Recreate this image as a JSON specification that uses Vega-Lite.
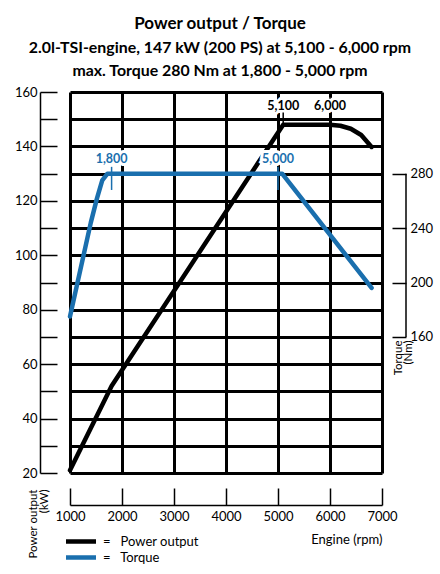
{
  "$schema": "https://vega.github.io/schema/vega-lite/v6.json",
  "autosize": "none",
  "width": 312,
  "height": 381,
  "padding": {"left": 70, "top": 92, "right": 58, "bottom": 101},
  "background": "white",
  "config": {
    "view": {"stroke": null},
    "font": "Lato",
    "axis": {
      "labelFont": "Lato", "labelFontSize": 13, "labelColor": "black",
      "titleFont": "Lato", "titleFontSize": 13, "titleFontWeight": "normal", "titleColor": "black",
      "domainColor": "black", "domainWidth": 1.5, "tickColor": "black", "tickWidth": 1.5
    }
  },
  "title": {
    "text": "Power output / Torque",
    "subtitle": ["2.0l-TSI-engine, 147 kW (200 PS) at 5,100 - 6,000 rpm", "max. Torque 280 Nm at 1,800 - 5,000 rpm"],
    "anchor": "middle",
    "dx": -6,
    "offset": 6,
    "font": "Lato", "fontSize": 17, "fontWeight": "bold", "color": "black",
    "subtitleFont": "Lato", "subtitleFontSize": 15.9, "subtitleFontWeight": "bold", "subtitleColor": "black",
    "subtitleLineHeight": 23, "subtitlePadding": 7
  },
  "datasets": {
    "power": [
      {"rpm": 1000, "kW": 21, "series": "Power output"},
      {"rpm": 1800, "kW": 52, "series": "Power output"},
      {"rpm": 5100, "kW": 148, "series": "Power output"},
      {"rpm": 6000, "kW": 148, "series": "Power output"},
      {"rpm": 6200, "kW": 147.6, "series": "Power output"},
      {"rpm": 6400, "kW": 146.5, "series": "Power output"},
      {"rpm": 6600, "kW": 144.2, "series": "Power output"},
      {"rpm": 6800, "kW": 139.8, "series": "Power output"}
    ],
    "torque": [
      {"rpm": 1000, "Nm": 175, "series": "Torque"},
      {"rpm": 1400, "Nm": 244, "series": "Torque"},
      {"rpm": 1520, "Nm": 262, "series": "Torque"},
      {"rpm": 1620, "Nm": 275, "series": "Torque"},
      {"rpm": 1720, "Nm": 280, "series": "Torque"},
      {"rpm": 5080, "Nm": 280, "series": "Torque"},
      {"rpm": 6800, "Nm": 196, "series": "Torque"}
    ],
    "powerMarks": [
      {"rpm": 5100, "label": "5,100", "lo": 147.5, "hi": 152.5, "ly": 155},
      {"rpm": 6000, "label": "6,000", "lo": 157.5, "hi": 160, "ly": 155}
    ],
    "torqueMarks": [
      {"rpm": 1800, "label": "1,800", "lo": 268, "hi": 285, "ly": 291},
      {"rpm": 5000, "label": "5,000", "lo": 268, "hi": 285, "ly": 291}
    ],
    "torqueAxis": [
      {"rpm": 7000, "lo": 160, "hi": 280}
    ]
  },
  "encoding": {
    "x": {
      "field": "rpm", "type": "quantitative",
      "scale": {"domain": [1000, 7000], "nice": false, "zero": false},
      "axis": {
        "values": [1000, 2000, 3000, 4000, 5000, 6000, 7000],
        "format": "d", "offset": 32, "tickSize": -17, "labelPadding": 22, "labelFlush": false,
        "grid": true, "gridColor": "black", "gridWidth": 3, "gridOpacity": 1,
        "title": "Engine (rpm)", "titleAnchor": "end", "titlePadding": 10
      }
    }
  },
  "layer": [
    {
      "data": {"name": "power"},
      "mark": {"type": "line", "strokeWidth": 4.5, "strokeCap": "round", "strokeJoin": "round"},
      "encoding": {
        "y": {
          "field": "kW", "type": "quantitative",
          "scale": {"domain": [20, 160], "nice": false, "zero": false},
          "axis": {
            "orient": "left",
            "values": [20, 30, 40, 50, 60, 70, 80, 90, 100, 110, 120, 130, 140, 150, 160],
            "labelExpr": "datum.value % 20 == 0 ? datum.label : ''",
            "offset": 30, "tickSize": -17, "labelPadding": 20,
            "grid": true, "gridColor": "black", "gridWidth": 3, "gridOpacity": 1,
            "title": ["Power output", "(kW)"], "titleAngle": 270, "titleAlign": "right",
            "titleBaseline": "top", "titleX": -13, "titleY": 397, "titleLineHeight": 11,
            "titleFontSize": 11.5
          }
        },
        "color": {
          "field": "series", "type": "nominal",
          "scale": {"domain": ["Power output", "Torque"], "range": ["black", "#1a6fae"]},
          "legend": {
            "orient": "none", "legendX": -4, "legendY": 442, "title": null,
            "symbolType": "M-4.5,0H4.5", "symbolSize": 100, "symbolStrokeWidth": 4.5,
            "labelFont": "Lato", "labelFontSize": 13, "labelColor": "black",
            "labelExpr": "'=\u00a0\u00a0\u00a0' + datum.label", "rowPadding": 1, "labelOffset": 22,
            "clipHeight": 15
          }
        }
      }
    },
    {
      "data": {"name": "powerMarks"},
      "mark": {"type": "text", "fontSize": 12.5, "fontWeight": "bold", "color": "white", "stroke": "white", "strokeWidth": 6, "baseline": "middle"},
      "encoding": {
        "y": {"field": "ly", "type": "quantitative", "scale": {"domain": [20, 160], "nice": false, "zero": false}, "axis": null},
        "text": {"field": "label"}
      }
    },
    {
      "data": {"name": "powerMarks"},
      "mark": {"type": "rule", "strokeWidth": 1.5, "color": "black"},
      "encoding": {
        "y": {"field": "lo", "type": "quantitative", "scale": {"domain": [20, 160], "nice": false, "zero": false}, "axis": null},
        "y2": {"field": "hi"}
      }
    },
    {
      "data": {"name": "powerMarks"},
      "mark": {"type": "text", "fontSize": 12.5, "fontWeight": "bold", "color": "black", "baseline": "middle"},
      "encoding": {
        "y": {"field": "ly", "type": "quantitative", "scale": {"domain": [20, 160], "nice": false, "zero": false}, "axis": null},
        "text": {"field": "label"}
      }
    },
    {
      "data": {"name": "torqueMarks"},
      "mark": {"type": "text", "fontSize": 12.5, "fontWeight": "bold", "color": "white", "stroke": "white", "strokeWidth": 6, "baseline": "middle"},
      "encoding": {
        "y": {"field": "ly", "type": "quantitative", "scale": {"domain": [60, 340], "nice": false, "zero": false}, "axis": null},
        "text": {"field": "label"}
      }
    },
    {
      "data": {"name": "torque"},
      "mark": {"type": "line", "strokeWidth": 4.5, "strokeCap": "round", "strokeJoin": "round"},
      "encoding": {
        "y": {
          "field": "Nm", "type": "quantitative",
          "scale": {"domain": [60, 340], "nice": false, "zero": false},
          "axis": {
            "orient": "right", "values": [160, 200, 240, 280],
            "offset": 24, "tickSize": -14, "labelPadding": 18, "domain": false, "grid": false,
            "title": ["Torque", "(Nm)"], "titleAngle": 270, "titleAlign": "right",
            "titleBaseline": "top", "titleX": -14, "titleY": 248, "titleLineHeight": 10,
            "titleFontSize": 11.5
          }
        },
        "color": {"field": "series", "type": "nominal"}
      }
    },
    {
      "data": {"name": "torqueAxis"},
      "mark": {"type": "rule", "strokeWidth": 1.5, "color": "black", "xOffset": 24},
      "encoding": {
        "y": {"field": "lo", "type": "quantitative", "scale": {"domain": [60, 340], "nice": false, "zero": false}, "axis": null},
        "y2": {"field": "hi"}
      }
    },
    {
      "data": {"name": "torqueMarks"},
      "mark": {"type": "rule", "strokeWidth": 1.5, "color": "#1a6fae"},
      "encoding": {
        "y": {"field": "lo", "type": "quantitative", "scale": {"domain": [60, 340], "nice": false, "zero": false}, "axis": null},
        "y2": {"field": "hi"}
      }
    },
    {
      "data": {"name": "torqueMarks"},
      "mark": {"type": "text", "fontSize": 12.5, "fontWeight": "bold", "color": "#1a6fae", "baseline": "middle"},
      "encoding": {
        "y": {"field": "ly", "type": "quantitative", "scale": {"domain": [60, 340], "nice": false, "zero": false}, "axis": null},
        "text": {"field": "label"}
      }
    }
  ],
  "resolve": {"scale": {"y": "independent"}}
}
